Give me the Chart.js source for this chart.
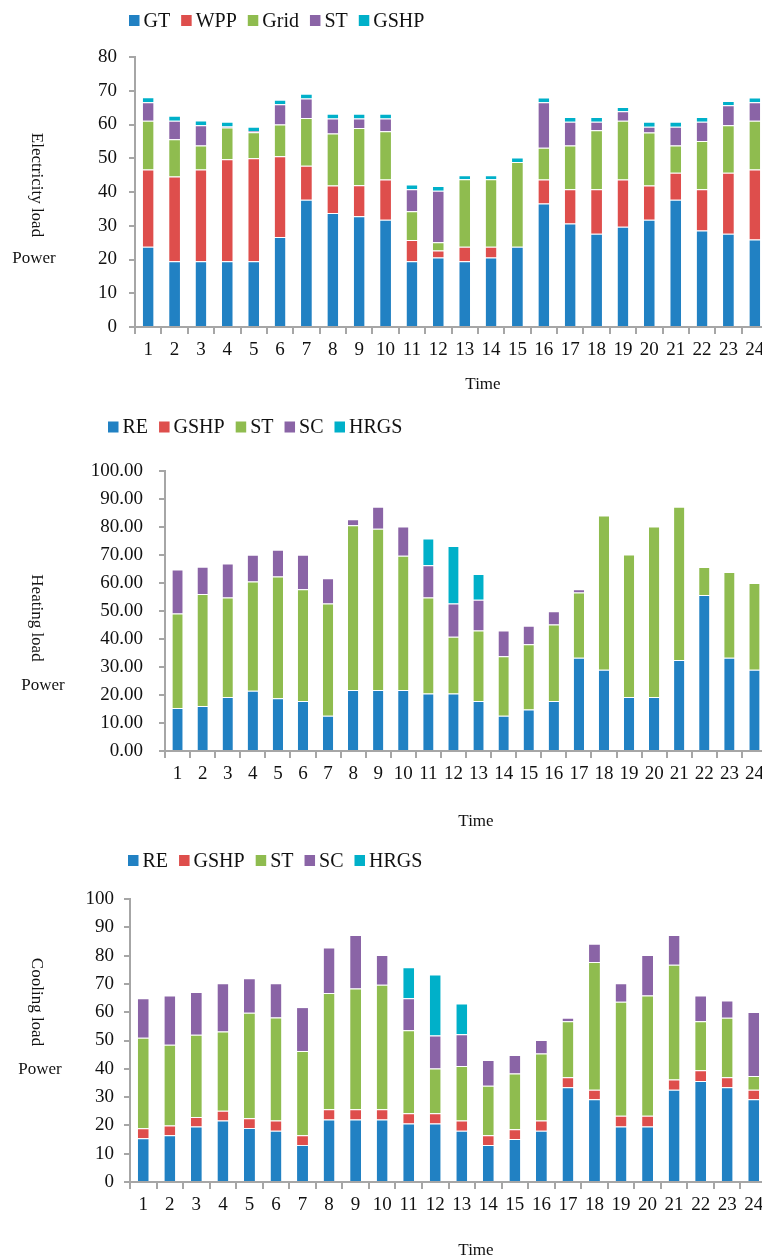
<!DOCTYPE html>
<html>
<head>
<meta charset="utf-8">
<title>Electricity, heating and cooling load</title>
<script src="https://cdn.jsdelivr.net/npm/chart.js@4.4.1/dist/chart.umd.min.js"></script>
<style>
  html, body { margin: 0; padding: 0; background: #fff; overflow: hidden; }
  #page { position: relative; width: 762px; height: 1260px; overflow: hidden; }
  canvas { position: absolute; left: 0; }
</style>
</head>
<body>
<div id="page">
  <canvas id="elecChart" style="top:0;width:770px;height:400px"></canvas>
  <canvas id="heatChart" style="top:410px;width:770px;height:430px"></canvas>
  <canvas id="coolChart" style="top:840px;width:770px;height:420px"></canvas>
</div>
<script>
// hours of the day (x axis)
var hours = ['1', '2', '3', '4', '5', '6', '7', '8', '9', '10', '11', '12',
             '13', '14', '15', '16', '17', '18', '19', '20', '21', '22', '23', '24'];

// electricity load
var elecGT   = [23.8, 19.5, 19.5, 19.5, 19.5, 26.7, 37.7, 33.8, 32.8, 31.8, 19.5, 20.6, 19.5, 20.6, 23.8, 36.6, 30.7, 27.6, 29.7, 31.8, 37.7, 28.6, 27.6, 25.9];
var elecWPP  = [22.9, 25.1, 27.2, 30.2, 30.5, 23.9, 10.1, 8.1, 9.2, 11.9, 6.3, 2.1, 4.3, 3.2, 0, 7.1, 10.1, 13.2, 14, 10.1, 8, 12.2, 18.1, 20.8];
var elecGrid = [14.4, 11, 7.1, 9.4, 7.7, 9.4, 14.1, 15.4, 17, 14.3, 8.5, 2.4, 20, 20, 25.1, 9.4, 13, 17.5, 17.4, 15.7, 8.1, 14.3, 14.1, 14.4];
var elecST   = [5.5, 5.5, 6, 0.3, 0.4, 6, 5.8, 4.5, 2.8, 3.8, 6.5, 15.3, 0, 0, 0, 13.5, 7, 2.5, 2.8, 1.7, 5.5, 5.7, 5.9, 5.5];
var elecGSHP = [1.5, 1.5, 1.4, 1.4, 1.2, 1.3, 1.4, 1.4, 1.4, 1.4, 1.4, 1.4, 1.2, 1.2, 1.3, 1.4, 1.4, 1.4, 1.3, 1.5, 1.5, 1.4, 1.3, 1.4];

// heating load
var heatRE   = [15.4, 16.1, 19.3, 21.5, 18.8, 17.9, 12.6, 21.8, 21.8, 21.8, 20.5, 20.5, 17.9, 12.6, 14.8, 17.9, 33.3, 29, 19.3, 19.3, 32.5, 55.7, 33.3, 29];
var heatGSHP = [0, 0, 0, 0, 0, 0, 0, 0, 0, 0, 0, 0, 0, 0, 0, 0, 0, 0, 0, 0, 0, 0, 0, 0];
var heatST   = [33.7, 40, 35.5, 39, 43.5, 39.9, 40.1, 58.8, 57.6, 47.9, 34.3, 20.3, 25.1, 21.2, 23.3, 27.3, 23.3, 55.1, 50.9, 60.9, 54.7, 10, 30.6, 31];
var heatSC   = [15.7, 9.7, 12.2, 9.6, 9.6, 12.3, 9, 2.2, 7.8, 10.5, 11.5, 11.9, 11, 9.2, 6.6, 4.7, 1.2, 0, 0, 0, 0, 0, 0, 0];
var heatHRGS = [0, 0, 0, 0, 0, 0, 0, 0, 0, 0, 9.6, 20.5, 9.2, 0, 0, 0, 0, 0, 0, 0, 0, 0, 0, 0];

// cooling load
var coolRE   = [15.5, 16.5, 19.6, 21.7, 19.1, 18.1, 13.1, 22.1, 22.1, 22.1, 20.7, 20.7, 18.1, 13.1, 15.2, 18.1, 33.5, 29.2, 19.6, 19.6, 32.6, 35.7, 33.5, 29.2];
var coolGSHP = [3.5, 3.5, 3.4, 3.5, 3.4, 3.6, 3.4, 3.6, 3.6, 3.6, 3.6, 3.6, 3.6, 3.4, 3.4, 3.6, 3.5, 3.4, 3.8, 3.8, 3.6, 3.8, 3.5, 3.4];
var coolST   = [32, 28.5, 29, 28, 37.3, 36.4, 29.8, 41.1, 42.7, 44, 29.3, 15.8, 19.3, 17.5, 19.7, 23.7, 19.8, 45.1, 40.3, 42.5, 40.6, 17.3, 21, 4.9];
var coolSC   = [13.9, 17.4, 15.1, 17, 12.2, 12.1, 15.5, 16.1, 18.9, 10.5, 11.3, 11.7, 11.2, 9.1, 6.6, 4.8, 1.2, 6.5, 6.5, 14.3, 10.5, 9.1, 6.1, 22.6];
var coolHRGS = [0, 0, 0, 0, 0, 0, 0, 0, 0, 0, 11, 21.5, 10.9, 0, 0, 0, 0, 0, 0, 0, 0, 0, 0, 0];

var BLUE = '#2181c3', RED = '#de4e4c', GREEN = '#8fbc4f', PURPLE = '#8a64a6', CYAN = '#00b0c9';
var AXIS = '#a6a6a6';
var SERIF = '"Liberation Serif", "Times New Roman", serif';

// legend + axis titles drawn straight on the canvas
var loadText = {
    id: 'loadText',
    afterDraw: function (chart, args, opts) {
        var ctx = chart.ctx;
        ctx.save();
        ctx.textBaseline = 'middle';
        ctx.textAlign = 'left';
        ctx.font = '20px ' + SERIF;
        var x = opts.legendX;
        chart.data.datasets.forEach(function (ds) {
            ctx.fillStyle = ds.backgroundColor;
            ctx.fillRect(x, opts.legendY - 5.5, 10.5, 11);
            ctx.fillStyle = '#111';
            ctx.fillText(ds.label, x + 14.5, opts.legendY + 1);
            x += 14.5 + ctx.measureText(ds.label).width + 11;
        });

        ctx.font = '17px ' + SERIF;
        ctx.textAlign = 'center';
        ctx.fillText('Power', opts.powerX, opts.powerY);
        ctx.fillText('Time', opts.timeX, opts.timeY);
        ctx.translate(opts.titleX, opts.titleY);
        ctx.rotate(Math.PI / 2);
        ctx.fillText(opts.title, 0, 0);
        ctx.restore();
    }
};

function series(label, data, color) {
    return {
        label: label,
        data: data,
        backgroundColor: color,
        borderColor: 'rgba(255,255,255,0.6)',
        borderWidth: { top: 1, left: 0, right: 0, bottom: 0 },
        categoryPercentage: 1,
        barPercentage: 0.41
    };
}

function makeChart(id, datasets, yMax, decimals, area, text) {
    var canvas = document.getElementById(id);
    var w = parseInt(canvas.style.width, 10);
    var h = parseInt(canvas.style.height, 10);

    return new Chart(canvas.getContext('2d'), {
        type: 'bar',
        data: { labels: hours, datasets: datasets },
        plugins: [loadText],
        options: {
            responsive: false,
            animation: false,
            layout: { padding: { top: area.top, right: w - area.right, left: 0, bottom: 0 } },
            plugins: {
                legend: { display: false },
                tooltip: { enabled: false },
                loadText: text
            },
            scales: {
                x: {
                    stacked: true,
                    grid: { display: true, drawOnChartArea: false, drawTicks: true, tickLength: 7, color: AXIS, lineWidth: 2 },
                    border: { display: true, color: AXIS, width: 2 },
                    ticks: { color: '#111', font: { family: SERIF, size: 19 }, padding: 5, maxRotation: 0, autoSkip: false },
                    afterFit: function (scale) {
                        scale.height = h - area.bottom;
                        scale.paddingLeft = 0;
                        scale.paddingRight = 0;
                    }
                },
                y: {
                    stacked: true,
                    min: 0,
                    max: yMax,
                    grid: { display: true, drawOnChartArea: false, drawTicks: true, tickLength: 6, color: AXIS, lineWidth: 2 },
                    border: { display: true, color: AXIS, width: 2 },
                    ticks: {
                        stepSize: 10,
                        color: '#111',
                        font: { family: SERIF, size: 19 },
                        padding: area.tickPad,
                        callback: function (v) { return v.toFixed(decimals); }
                    },
                    afterFit: function (scale) {
                        scale.width = area.left;
                        scale.paddingTop = 0;
                        scale.paddingBottom = 0;
                    }
                }
            }
        }
    });
}

document.addEventListener('DOMContentLoaded', function () {
    makeChart('elecChart', [
        series('GT', elecGT, BLUE),
        series('WPP', elecWPP, RED),
        series('Grid', elecGrid, GREEN),
        series('ST', elecST, PURPLE),
        series('GSHP', elecGSHP, CYAN)
    ], 80, 0,
    { left: 135, top: 57, right: 768, bottom: 327, tickPad: 12 },
    { legendX: 129, legendY: 20.5, title: 'Electricity load', titleX: 36, titleY: 185,
      powerX: 34, powerY: 259, timeX: 483, timeY: 385 });

    makeChart('heatChart', [
        series('RE', heatRE, BLUE),
        series('GSHP', heatGSHP, RED),
        series('ST', heatST, GREEN),
        series('SC', heatSC, PURPLE),
        series('HRGS', heatHRGS, CYAN)
    ], 100, 2,
    { left: 165, top: 61, right: 767, bottom: 341, tickPad: 16 },
    { legendX: 108, legendY: 17, title: 'Heating load', titleX: 36, titleY: 208,
      powerX: 43, powerY: 276, timeX: 476, timeY: 412 });

    makeChart('coolChart', [
        series('RE', coolRE, BLUE),
        series('GSHP', coolGSHP, RED),
        series('ST', coolST, GREEN),
        series('SC', coolSC, PURPLE),
        series('HRGS', coolHRGS, CYAN)
    ], 100, 0,
    { left: 130, top: 59, right: 767, bottom: 342, tickPad: 10 },
    { legendX: 128, legendY: 20.5, title: 'Cooling load', titleX: 36, titleY: 162,
      powerX: 40, powerY: 230, timeX: 476, timeY: 411 });
});
</script>
</body>
</html>
